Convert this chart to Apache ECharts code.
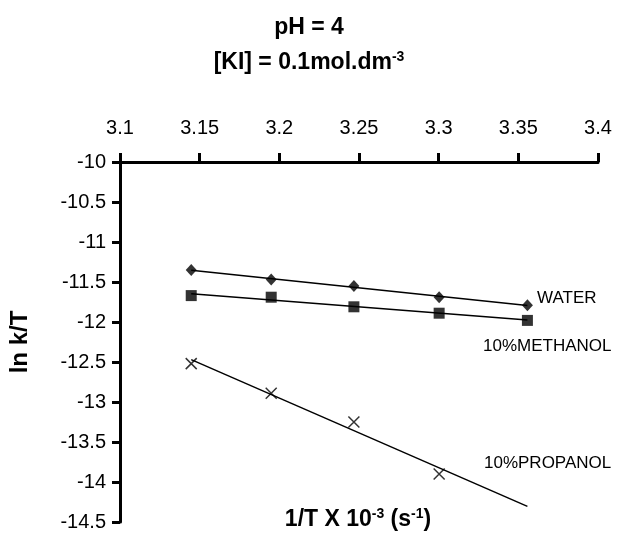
<!DOCTYPE html>
<html>
<head>
<meta charset="utf-8">
<script src="https://cdn.jsdelivr.net/npm/echarts@6/dist/echarts.min.js"></script>
<style>
  html, body { margin: 0; padding: 0; background: #fff; }
  #chart { width: 618px; height: 543px; }
</style>
</head>
<body>
<div id="chart"></div>
<script>
// 1/T x 10^-3 for the five temperatures (318, 313, 308, 303, 298 K)
var invT = [3.1447, 3.1949, 3.2468, 3.3003, 3.3557];
// ln k/T for each solvent
var water = [-11.35, -11.47, -11.55, -11.69, -11.79];
var methanol = [-11.67, -11.69, -11.81, -11.89, -11.98];
var propanol = [-12.52, -12.89, -13.25, -13.90];
var seriesNames = ['WATER', '10%METHANOL', '10%PROPANOL'];

var xTicks = { min: 3.1, max: 3.4, step: 0.05 };
var yTicks = { min: -14.5, max: -10, step: 0.5 };

var FONT = '"Liberation Sans", Arial, sans-serif';

function pairs(xs, ys) {
  return ys.map(function (y, i) { return [xs[i], y]; });
}

// least-squares straight line through the measured points, drawn over the full 1/T range
function trend(xs, ys, x0, x1) {
  var n = ys.length, sx = 0, sy = 0, sxx = 0, sxy = 0;
  for (var i = 0; i < n; i++) {
    sx += xs[i]; sy += ys[i]; sxx += xs[i] * xs[i]; sxy += xs[i] * ys[i];
  }
  var b = (n * sxy - sx * sy) / (n * sxx - sx * sx);
  var a = (sy - b * sx) / n;
  return [[x0, a + b * x0], [x1, a + b * x1]];
}

var xFirst = invT[0], xLast = invT[invT.length - 1];

function trendSeries(data) {
  return {
    type: 'line', data: data, showSymbol: false, symbol: 'none', silent: true,
    lineStyle: { color: '#000', width: 1.5 }, z: 2
  };
}

var crossPath = 'path://M0,0L10,10M10,0L0,10';

var supStyle = { font: 'bold 14px ' + FONT, color: '#000', verticalAlign: 'top', padding: [0, 0, 11, 0] };

var chart = echarts.init(document.getElementById('chart'), null, { renderer: 'canvas' });
chart.setOption({
  animation: false,
  backgroundColor: '#fff',
  textStyle: { fontFamily: FONT },
  grid: { left: 118, right: 20, top: 162, bottom: 21, containLabel: false },
  xAxis: {
    type: 'value', position: 'top',
    min: xTicks.min, max: xTicks.max, interval: xTicks.step,
    axisLine: { show: true, onZero: false, lineStyle: { color: '#000', width: 3 } },
    axisTick: { show: true, inside: false, length: 9, lineStyle: { color: '#000', width: 3 } },
    axisLabel: { color: '#000', fontSize: 20, fontFamily: FONT, margin: 24,
      formatter: function (v) { return String(+v.toFixed(2)); } },
    splitLine: { show: false }
  },
  yAxis: {
    type: 'value',
    min: yTicks.min, max: yTicks.max, interval: yTicks.step,
    name: 'ln k/T', nameLocation: 'middle', nameGap: 88, nameRotate: 90,
    nameTextStyle: { color: '#000', fontSize: 24, fontWeight: 'bold', fontFamily: FONT },
    axisLine: { show: true, onZero: false, lineStyle: { color: '#000', width: 3 } },
    axisTick: { show: true, inside: false, length: 8, lineStyle: { color: '#000', width: 3 } },
    axisLabel: { color: '#000', fontSize: 20, fontFamily: FONT, margin: 14,
      formatter: function (v) { return String(+v.toFixed(1)); } },
    splitLine: { show: false }
  },
  series: [
    trendSeries(trend(invT, water, xFirst, xLast)),
    trendSeries(trend(invT, methanol, xFirst, xLast)),
    trendSeries(trend(invT.slice(0, propanol.length), propanol, xFirst, xLast)),
    {
      name: seriesNames[0], type: 'scatter', data: pairs(invT, water),
      symbol: 'diamond', symbolSize: [11, 12], itemStyle: { color: '#000' }, z: 3
    },
    {
      name: seriesNames[1], type: 'scatter', data: pairs(invT, methanol),
      symbol: 'rect', symbolSize: 11, itemStyle: { color: '#000' }, z: 3
    },
    {
      name: seriesNames[2], type: 'scatter', data: pairs(invT, propanol),
      symbol: crossPath, symbolSize: 11,
      itemStyle: { color: 'none', borderColor: '#000', borderWidth: 1.5 }, z: 3
    }
  ],
  graphic: [
    { type: 'text', x: 309, y: 28,
      style: { text: 'pH = 4', font: 'bold 23px ' + FONT, fill: '#000', align: 'center', verticalAlign: 'middle' } },
    { type: 'text', x: 309, y: 63,
      style: { text: '{b|[KI] = 0.1mol.dm}{s|-3}', align: 'center', verticalAlign: 'middle',
        rich: { b: { font: 'bold 23px ' + FONT, color: '#000' }, s: supStyle } } },
    { type: 'text', x: 358, y: 520,
      style: { text: '{b|1/T X 10}{s|-3}{b| (s}{s|-1}{b|)}', align: 'center', verticalAlign: 'middle',
        rich: { b: { font: 'bold 23px ' + FONT, color: '#000' }, s: supStyle } } },
    { type: 'text', x: 537, y: 298,
      style: { text: seriesNames[0], font: '17px ' + FONT, fill: '#000', verticalAlign: 'middle' } },
    { type: 'text', x: 483, y: 346,
      style: { text: seriesNames[1], font: '17px ' + FONT, fill: '#000', verticalAlign: 'middle' } },
    { type: 'text', x: 484, y: 463,
      style: { text: seriesNames[2], font: '17px ' + FONT, fill: '#000', verticalAlign: 'middle' } }
  ]
});
</script>
</body>
</html>
